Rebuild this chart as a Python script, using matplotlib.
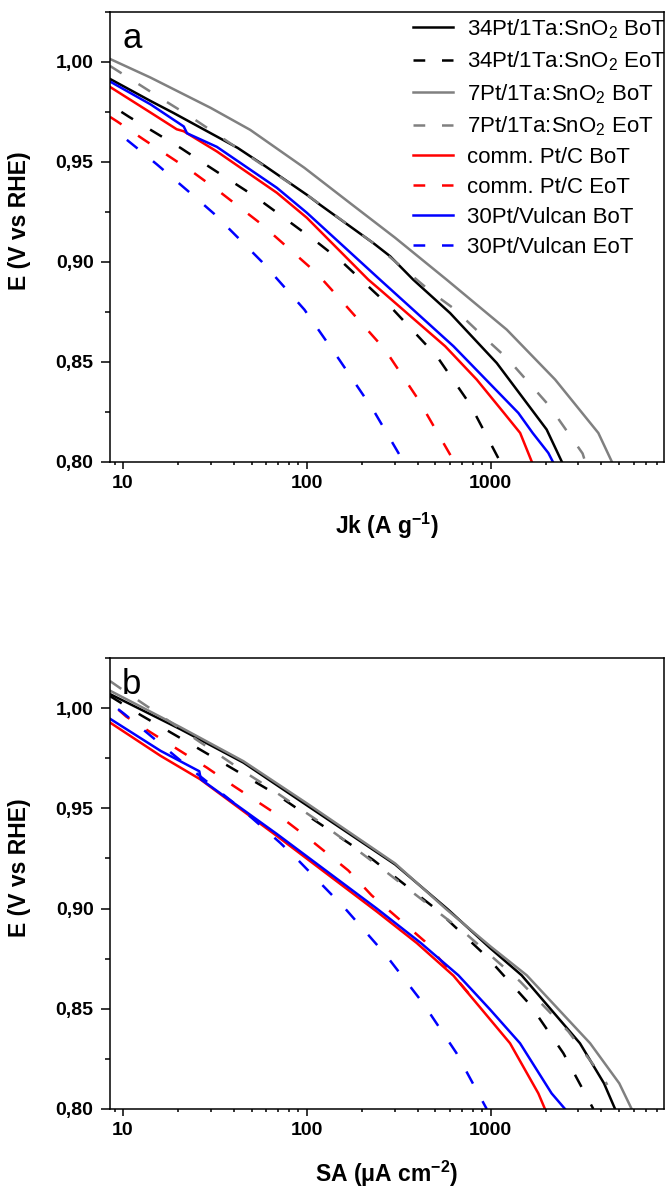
import numpy as np
import matplotlib
matplotlib.use("Agg")
import matplotlib.pyplot as plt
from matplotlib.lines import Line2D
from matplotlib.ticker import FixedLocator, LogLocator, MultipleLocator, FuncFormatter, NullFormatter

plt.rcParams['font.family'] = ['Liberation Sans', 'DejaVu Sans']
plt.rcParams['mathtext.fontset'] = 'custom'
plt.rcParams['mathtext.rm'] = 'Liberation Sans'
plt.rcParams['mathtext.it'] = 'Liberation Sans:italic'
plt.rcParams['mathtext.bf'] = 'Liberation Sans:bold'

## series labels and styles
labels = ['34Pt/1Ta:SnO$_2$ BoT', '34Pt/1Ta:SnO$_2$ EoT',
          '7Pt/1Ta:SnO$_2$ BoT', '7Pt/1Ta:SnO$_2$ EoT',
          'comm. Pt/C BoT', 'comm. Pt/C EoT',
          '30Pt/Vulcan BoT', '30Pt/Vulcan EoT']
colors = ['#000000', '#000000', '#808080', '#808080',
          '#ff0000', '#ff0000', '#0000ff', '#0000ff']
dashed = [False, True, False, True, False, True, False, True]

## panel a : mass activity Jk (A g-1) vs E
a_34_bot_x = [8.5, 14.1, 18.8, 42, 59, 100, 118, 230, 284, 379, 601, 1078, 2014, 2432]
a_34_bot_e = [0.9915, 0.9805, 0.9745, 0.957, 0.948, 0.9335, 0.9285, 0.9093, 0.9027, 0.891, 0.8743, 0.8493, 0.816, 0.80]
a_34_eot_x = [9.8, 10.8, 20.7, 28.9, 51.9, 70.2, 116.6, 155, 295, 509, 773, 1124]
a_34_eot_e = [0.975, 0.9725, 0.9568, 0.948, 0.9328, 0.924, 0.909, 0.900, 0.876, 0.8527, 0.8285, 0.80]
a_7_bot_x = [8.5, 14.1, 30, 49.2, 97, 172, 302, 576, 1222, 2240, 3846, 4550]
a_7_bot_e = [1.0015, 0.9922, 0.977, 0.966, 0.947, 0.9293, 0.912, 0.891, 0.866, 0.841, 0.8143, 0.80]
a_7_eot_x = [8.5, 16.6, 23.2, 41.7, 100, 230, 480, 631, 951, 1233, 2075, 3160, 3260]
a_7_eot_e = [0.998, 0.981, 0.9727, 0.957, 0.9335, 0.9093, 0.8845, 0.8765, 0.861, 0.8515, 0.828, 0.804, 0.80]
a_ptc_bot_x = [8.5, 14.1, 19.6, 21.4, 32.4, 68.7, 100, 216, 250, 565, 839, 1180, 1445, 1670]
a_ptc_bot_e = [0.9875, 0.9747, 0.9663, 0.9653, 0.9552, 0.9345, 0.922, 0.891, 0.886, 0.8577, 0.841, 0.8243, 0.8143, 0.80]
a_ptc_eot_x = [8.5, 9.3, 12.9, 23.7, 32.5, 55.7, 73.1, 113, 142.6, 266, 404, 632]
a_ptc_eot_e = [0.9725, 0.9702, 0.9613, 0.9452, 0.936, 0.9193, 0.9097, 0.8943, 0.884, 0.856, 0.831, 0.80]
a_vul_bot_x = [8.5, 14.1, 21.4, 22.3, 32.4, 68.7, 100, 250, 627, 1413, 1690, 2056, 2173]
a_vul_bot_e = [0.9902, 0.9788, 0.9677, 0.9643, 0.9575, 0.937, 0.9245, 0.891, 0.8577, 0.8243, 0.8143, 0.8043, 0.80]
a_vul_eot_x = [10.5, 11.7, 15.3, 24.2, 31.3, 45.2, 56.9, 97, 150, 229, 335]
a_vul_eot_e = [0.961, 0.9575, 0.9487, 0.933, 0.924, 0.9093, 0.900, 0.876, 0.851, 0.826, 0.80]

## panel b : specific activity SA (uA cm-2) vs E
b_34_bot_x = [8.5, 20.5, 45.2, 100, 302, 586, 1000, 1473, 3055, 4130, 4745]
b_34_bot_e = [1.007, 0.9895, 0.9728, 0.9515, 0.922, 0.8995, 0.880, 0.8667, 0.8328, 0.8128, 0.80]
b_34_eot_x = [8.5, 12.4, 25.2, 35.2, 68.7, 95.7, 168, 230, 508, 951, 1637, 2484, 3615]
b_34_eot_e = [1.006, 0.9967, 0.9803, 0.9725, 0.9568, 0.9478, 0.9328, 0.9242, 0.8995, 0.876, 0.852, 0.8278, 0.80]
b_7_bot_x = [8.5, 20.5, 45.2, 100, 302, 576, 1000, 1570, 3470, 5000, 5840]
b_7_bot_e = [1.0087, 0.9905, 0.9735, 0.9525, 0.9225, 0.8995, 0.881, 0.8667, 0.8328, 0.8128, 0.80]
b_7_eot_x = [8.5, 10, 44.8, 62.4, 111, 150, 253, 725, 1442, 2642, 4130, 4300]
b_7_eot_e = [1.0135, 1.009, 0.9687, 0.9603, 0.9447, 0.936, 0.9203, 0.8878, 0.8637, 0.8387, 0.815, 0.812]
b_ptc_bot_x = [8.5, 16, 26.3, 68.7, 240, 396, 627, 893, 1273, 1815, 1972]
b_ptc_bot_e = [0.9928, 0.9762, 0.9645, 0.9362, 0.8985, 0.8828, 0.8665, 0.8497, 0.8328, 0.8078, 0.80]
b_ptc_eot_x = [9.5, 10.4, 14.2, 28.6, 39.9, 73.1, 100, 168, 225, 437, 798]
b_ptc_eot_e = [0.999, 0.9958, 0.9878, 0.9703, 0.9612, 0.9453, 0.9357, 0.919, 0.9066, 0.8837, 0.8553]
b_vul_bot_x = [8.5, 16, 26, 26.5, 68.7, 240, 417, 667, 990, 1443, 2143, 2535]
b_vul_bot_e = [0.9947, 0.9787, 0.9685, 0.9645, 0.9372, 0.900, 0.8828, 0.8667, 0.8497, 0.8328, 0.8078, 0.80]
b_vul_eot_x = [9.4, 10.2, 22, 44.4, 71.6, 90, 161.5, 268, 429, 650, 951]
b_vul_eot_e = [0.9995, 0.997, 0.9716, 0.9495, 0.9328, 0.924, 0.900, 0.877, 0.8527, 0.828, 0.80]

panel_a = [(a_34_bot_x, a_34_bot_e), (a_34_eot_x, a_34_eot_e),
           (a_7_bot_x, a_7_bot_e), (a_7_eot_x, a_7_eot_e),
           (a_ptc_bot_x, a_ptc_bot_e), (a_ptc_eot_x, a_ptc_eot_e),
           (a_vul_bot_x, a_vul_bot_e), (a_vul_eot_x, a_vul_eot_e)]
panel_b = [(b_34_bot_x, b_34_bot_e), (b_34_eot_x, b_34_eot_e),
           (b_7_bot_x, b_7_bot_e), (b_7_eot_x, b_7_eot_e),
           (b_ptc_bot_x, b_ptc_bot_e), (b_ptc_eot_x, b_ptc_eot_e),
           (b_vul_bot_x, b_vul_bot_e), (b_vul_eot_x, b_vul_eot_e)]

W, H = 665, 1190
fig = plt.figure(figsize=(W / 100, H / 100), dpi=100)
ax_a = fig.add_axes([110 / W, (H - 461.5) / H, 553.5 / W, 449.5 / H])
ax_b = fig.add_axes([110 / W, (H - 1109) / H, 553.5 / W, 451 / H])


def draw_panel(ax, data, letter, xlabel):
    for (x, e), c, d in zip(data, colors, dashed):
        if d:
            ax.plot(x, e, color=c, lw=1.8, dashes=(5.5, 8), dash_capstyle='butt')
        else:
            ax.plot(x, e, color=c, lw=1.8, solid_joinstyle='round')
    ax.set_xscale('log')
    ax.set_xlim(8.5, 8700)
    ax.set_ylim(0.80, 1.025)
    ax.xaxis.set_major_locator(FixedLocator([10, 100, 1000]))
    ax.xaxis.set_major_formatter(FuncFormatter(lambda v, p: '%d' % v))
    ax.xaxis.set_minor_locator(LogLocator(base=10, subs=np.arange(2, 10)))
    ax.xaxis.set_minor_formatter(NullFormatter())
    ax.yaxis.set_major_locator(MultipleLocator(0.05))
    ax.yaxis.set_minor_locator(MultipleLocator(0.025))
    ax.yaxis.set_major_formatter(FuncFormatter(lambda v, p: ('%.2f' % v).replace('.', ',')))
    ax.tick_params(axis='x', which='major', direction='out', length=4.8, width=1.1, pad=4.8,
                   labelsize=14)
    ax.tick_params(axis='x', which='minor', direction='out', length=2.4, width=1.1)
    ax.tick_params(axis='y', which='major', direction='out', length=6.5, width=1.1, pad=5.3,
                   labelsize=14)
    ax.tick_params(axis='y', which='minor', direction='out', length=3.4, width=1.1)
    for lbl in ax.get_xticklabels() + ax.get_yticklabels():
        lbl.set_fontweight('bold')
    for s in ax.spines.values():
        s.set_linewidth(1.1)
    ax.set_ylabel('E (V vs RHE)', fontsize=16.5, fontweight='bold', va='center')
    ax.yaxis.set_label_coords(-0.163, 0.536)
    ax.set_xlabel(xlabel, fontsize=16.5, fontweight='bold', va='baseline')
    ax.xaxis.set_label_coords(0.5, -72.7 / 450)
    ax.text(0.022, 1 - 36 / 450, letter, transform=ax.transAxes, fontsize=25, va='baseline')


draw_panel(ax_a, panel_a, 'a', r'Jk (A g$^{\mathbf{-1}}$)')
draw_panel(ax_b, panel_b, 'b', r'SA (μA cm$^{\mathbf{-2}}$)')

# legend only on panel a
handles = []
for c, d in zip(colors, dashed):
    if d:
        handles.append(Line2D([], [], color=c, lw=1.8, dashes=(4.7, 6.7), dash_capstyle='butt'))
    else:
        handles.append(Line2D([], [], color=c, lw=1.8))
ax_a.legend(handles, labels, loc='upper left', bbox_to_anchor=(0.548, 0.989), frameon=False,
            fontsize=16, handlelength=1.8, handletextpad=0.6, labelspacing=0.4,
            borderpad=0, borderaxespad=0)

fig.savefig('out.png', dpi=100)
